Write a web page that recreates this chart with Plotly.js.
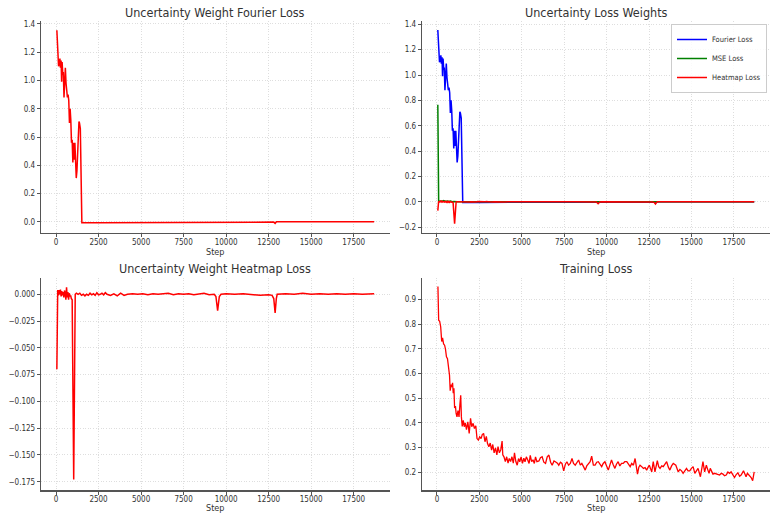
<!DOCTYPE html>
<html>
<head>
<meta charset="utf-8">
<script src="https://cdn.plot.ly/plotly-3.0.1.min.js"></script>
<style>
html,body{margin:0;padding:0;background:#fff;}
#chart{width:770px;height:514px;}
</style>
</head>
<body>
<div id="chart"></div>
<script>
// ---------- data ----------
const panelTitles = ["Uncertainty Weight Fourier Loss", "Uncertainty Loss Weights",
                     "Uncertainty Weight Heatmap Loss", "Training Loss"];
const xLabel = "Step";
const seriesNames = ["Fourier Loss", "MSE Loss", "Heatmap Loss"];
const xTicks = [0, 2500, 5000, 7500, 10000, 12500, 15000, 17500];

const fourierSteps = [50,100,150,190,230,260,300,330,360,400,
  430,470,510,550,590,630,670,710,750,790,
  830,870,910,950,990,1030,1070,1110,1150,1190,
  1230,1270,1310,1350,1380,1430,1520,2500,5000,7500,
  10000,12500,12800,12880,12960,15000,17500,18700];
const fourierWeight = [1.355,1.24,1.10,1.12,1.155,1.09,1.14,0.99,1.13,1.04,
  1.06,0.88,1.05,1.09,0.98,0.90,0.88,0.90,0.86,0.70,
  0.80,0.72,0.56,0.58,0.42,0.56,0.44,0.56,0.42,0.31,
  0.36,0.46,0.58,0.71,0.70,0.66,-0.005,-0.005,-0.004,-0.003,
  -0.002,-0.001,-0.001,-0.010,0.001,0.001,0.001,0.001];

const mseSteps = [50,100,200,300,400,500,600,700,800,900,1000,1200,2500,5000,10000,15000,18700];
const mseWeight = [0.766,0.002,0.006,0.004,0.009,0.003,0.007,0.002,0.006,0.001,0.003,0.0,0.0,0.0,0.0,0.0,0.0];

const heatmapSteps = [50,100,140,190,230,260,300,340,380,420,
  460,500,540,580,620,660,700,740,780,820,
  860,900,950,1040,1130,1200,1300,1400,1500,1600,
  1700,1800,1900,2000,2100,2200,2300,2400,2500,2600,
  2700,2800,2900,3000,3200,3400,3600,3800,4000,4200,
  4500,4800,5100,5400,5700,6000,6300,6600,6900,7200,
  7500,7800,8100,8400,8700,9000,9300,9400,9500,9600,
  9700,10000,10500,11000,11500,12000,12500,12700,12800,12880,
  12950,13000,13500,14000,14500,15000,15500,16000,16500,17000,
  17500,18000,18700];
const heatmapWeight = [-0.070,0.004,-0.001,0.004,0.000,0.0045,-0.002,0.003,-0.001,0.002,
  -0.003,0.0035,0.001,-0.005,0.0065,-0.003,0.002,-0.005,0.001,-0.002,
  -0.001,-0.004,-0.005,-0.173,0.000,0.001,0.000,0.001,-0.001,0.000,
  -0.0015,0.000,-0.001,0.001,-0.0005,0.0005,-0.001,0.0015,-0.0005,0.000,
  0.001,-0.0005,0.0015,0.000,-0.001,0.0005,-0.0015,0.001,-0.001,0.000,
  0.0005,0.000,0.0005,-0.0005,0.0005,0.000,0.0005,0.001,-0.0005,0.0005,
  0.000,0.0005,-0.0005,0.000,0.001,-0.0005,0.000,-0.002,-0.0152,-0.002,
  0.000,0.0005,0.000,0.0005,-0.0005,-0.001,-0.0005,-0.001,-0.004,-0.0175,
  -0.004,0.000,0.0005,0.000,0.001,0.000,0.0005,0.000,0.0005,0.000,
  0.0005,0.000,0.0005];

const trainSteps = [57,100,160,220,280,330,390,450,500,560,
  620,680,740,780,830,880,920,960,1000,1040,
  1090,1130,1180,1240,1300,1350,1400,1440,1490,1550,
  1610,1670,1740,1820,1900,1980,2050,2130,2210,2290,
  2360,2440,2520,2600,2670,2750,2830,2910,2980,3060,
  3140,3220,3290,3370,3450,3530,3600,3680,3760,3840,
  3880,3950,4030,4110,4190,4260,4340,4420,4500,4570,
  4650,4730,4810,4880,4960,5040,5120,5190,5270,5350,
  5430,5500,5580,5660,5740,5810,5890,6010,6100,6200,
  6300,6400,6500,6600,6700,6790,6900,6980,7100,7180,
  7280,7370,7470,7570,7660,7760,7860,7960,8050,8150,
  8250,8350,8450,8540,8640,8740,8830,8930,9030,9120,
  9220,9320,9420,9510,9610,9710,9800,9900,10000,10100,
  10200,10290,10390,10490,10580,10680,10780,10880,10980,11070,
  11190,11290,11390,11480,11580,11680,11820,11900,11970,12070,
  12170,12270,12360,12450,12520,12600,12660,12750,12850,12990,
  13070,13150,13250,13340,13440,13540,13640,13730,13830,13930,
  14080,14220,14320,14420,14510,14610,14710,14800,14900,15000,
  15100,15200,15300,15390,15530,15600,15680,15780,15880,15960,
  16040,16110,16200,16270,16370,16470,16560,16660,16760,16860,
  16950,17050,17150,17250,17340,17440,17540,17640,17740,17840,
  17930,18070,18150,18220,18300,18380,18450,18520,18610,18700];
const trainLoss = [0.953,0.816,0.812,0.790,0.730,0.745,0.720,0.715,0.700,0.668,
  0.660,0.620,0.593,0.530,0.555,0.545,0.562,0.520,0.540,0.460,
  0.468,0.438,0.424,0.450,0.424,0.472,0.512,0.424,0.385,0.410,
  0.384,0.400,0.372,0.404,0.357,0.418,0.384,0.398,0.377,0.388,
  0.336,0.330,0.343,0.336,0.352,0.357,0.323,0.345,0.316,0.303,
  0.318,0.289,0.312,0.278,0.298,0.270,0.303,0.278,0.290,0.326,
  0.270,0.262,0.243,0.262,0.236,0.255,0.243,0.262,0.236,0.278,
  0.243,0.228,0.255,0.242,0.262,0.235,0.256,0.242,0.262,0.249,
  0.235,0.268,0.242,0.250,0.235,0.262,0.242,0.245,0.258,0.262,
  0.240,0.235,0.262,0.269,0.240,0.228,0.245,0.242,0.236,0.228,
  0.240,0.235,0.205,0.232,0.242,0.228,0.235,0.255,0.235,0.228,
  0.240,0.249,0.228,0.235,0.222,0.208,0.225,0.235,0.242,0.265,
  0.228,0.228,0.240,0.242,0.230,0.222,0.235,0.242,0.225,0.208,
  0.230,0.249,0.230,0.215,0.232,0.242,0.225,0.235,0.235,0.242,
  0.242,0.230,0.222,0.235,0.228,0.255,0.192,0.220,0.228,0.222,
  0.215,0.218,0.208,0.220,0.228,0.212,0.201,0.242,0.201,0.246,
  0.222,0.215,0.225,0.222,0.230,0.242,0.220,0.208,0.225,0.235,
  0.228,0.201,0.211,0.205,0.195,0.208,0.215,0.205,0.205,0.215,
  0.222,0.195,0.208,0.215,0.181,0.220,0.242,0.201,0.228,0.210,
  0.195,0.215,0.200,0.192,0.195,0.192,0.190,0.188,0.195,0.192,
  0.185,0.188,0.200,0.195,0.201,0.190,0.178,0.190,0.197,0.183,
  0.188,0.205,0.190,0.181,0.195,0.188,0.182,0.178,0.165,0.201];

// ---------- styling ----------
const FONT = "DejaVu Sans Condensed, DejaVu Sans, sans-serif";
const TXT = "#333333";
const W = 770, H = 514;
const RED = "#ff0000", BLUE = "#0000ff", GREEN = "#008000";

function px2x(p){ return p / W; }
function px2y(p){ return 1 - p / H; }

const colL = [px2x(41), px2x(390)];
const colR = [px2x(422), px2x(770)];
const rowT = [px2y(233), px2y(21)];
const rowB = [px2y(490.3), px2y(277.7)];

const GRID = {showgrid: true, gridcolor: "#d6d6d6", gridwidth: 0.8, griddash: "1px,1.6px"};

function xAxis(domain, anchor){
  return Object.assign({
    domain: domain, anchor: anchor, range: [-882, 19632],
    tickmode: "array", tickvals: xTicks, tickformat: "d",
    showline: true, linecolor: "#555555", linewidth: 1.2, mirror: false,
    ticks: "outside", ticklen: 3, tickwidth: 1, tickcolor: "#555555",
    ticklabelstandoff: -2,
    zeroline: false, tickfont: {family: FONT, size: 8, color: TXT}
  }, GRID);
}
function yAxis(domain, anchor, range, vals, fmt){
  return Object.assign({
    domain: domain, anchor: anchor, range: range,
    tickmode: "array", tickvals: vals, tickformat: fmt,
    showline: true, linecolor: "#555555", linewidth: 1.2, mirror: false,
    ticks: "outside", ticklen: 3, tickwidth: 1, tickcolor: "#555555",
    zeroline: false, tickfont: {family: FONT, size: 8, color: TXT}
  }, GRID);
}

const traces = [
  {x: fourierSteps, y: fourierWeight, xaxis: "x", yaxis: "y", type: "scatter", mode: "lines",
   line: {color: RED, width: 1.5}, showlegend: false},
  {x: fourierSteps, y: fourierWeight, xaxis: "x2", yaxis: "y2", type: "scatter", mode: "lines",
   name: seriesNames[0], line: {color: BLUE, width: 1.5}},
  {x: mseSteps, y: mseWeight, xaxis: "x2", yaxis: "y2", type: "scatter", mode: "lines",
   name: seriesNames[1], line: {color: GREEN, width: 1.5}},
  {x: heatmapSteps, y: heatmapWeight, xaxis: "x2", yaxis: "y2", type: "scatter", mode: "lines",
   name: seriesNames[2], line: {color: RED, width: 1.5}},
  {x: heatmapSteps, y: heatmapWeight, xaxis: "x3", yaxis: "y3", type: "scatter", mode: "lines",
   line: {color: RED, width: 1.5}, showlegend: false},
  {x: trainSteps, y: trainLoss, xaxis: "x4", yaxis: "y4", type: "scatter", mode: "lines",
   line: {color: RED, width: 1.3}, showlegend: false}
];

function titleAnn(text, xc, yc){
  return {text: text, xref: "paper", yref: "paper", x: xc, y: yc, xanchor: "center", yanchor: "middle",
          showarrow: false, font: {family: FONT, size: 12.5, color: TXT}};
}
function labelAnn(xc, yc){
  return {text: xLabel, xref: "paper", yref: "paper", x: xc, y: yc, xanchor: "center", yanchor: "middle",
          showarrow: false, font: {family: FONT, size: 9, color: TXT}};
}
const cL = (colL[0] + colL[1]) / 2, cR = (colR[0] + colR[1]) / 2;

const layout = {
  width: W, height: H,
  margin: {l: 0, r: 0, t: 0, b: 0, pad: 0},
  paper_bgcolor: "#ffffff", plot_bgcolor: "#ffffff",
  font: {family: FONT, color: TXT},
  xaxis: xAxis(colL, "y"),
  yaxis: yAxis(rowT, "x", [-0.078, 1.42], [0, 0.2, 0.4, 0.6, 0.8, 1.0, 1.2, 1.4], ".1f"),
  xaxis2: xAxis(colR, "y2"),
  yaxis2: yAxis(rowT, "x2", [-0.246, 1.426], [-0.2, 0, 0.2, 0.4, 0.6, 0.8, 1.0, 1.2, 1.4], ".1f"),
  xaxis3: xAxis(colL, "y3"),
  yaxis3: yAxis(rowB, "x3", [-0.183, 0.0155], [-0.175, -0.15, -0.125, -0.1, -0.075, -0.05, -0.025, 0], ".3f"),
  xaxis4: xAxis(colR, "y4"),
  yaxis4: yAxis(rowB, "x4", [0.126, 0.989], [0.2, 0.3, 0.4, 0.5, 0.6, 0.7, 0.8, 0.9], ".1f"),
  showlegend: true,
  legend: {x: px2x(767), xanchor: "right", y: px2y(24), yanchor: "top",
           bgcolor: "rgba(255,255,255,0.85)", bordercolor: "#cccccc", borderwidth: 1,
           font: {family: FONT, size: 7.5, color: TXT}, tracegroupgap: 0, itemwidth: 30},
  annotations: [
    titleAnn(panelTitles[0], cL, px2y(12)),
    titleAnn(panelTitles[1], cR, px2y(12)),
    titleAnn(panelTitles[2], cL, px2y(268.7)),
    titleAnn(panelTitles[3], cR, px2y(268.7)),
    labelAnn(cL, px2y(251.5)),
    labelAnn(cR, px2y(251.5)),
    labelAnn(cL, px2y(508.3)),
    labelAnn(cR, px2y(508.3))
  ]
};

Plotly.newPlot("chart", traces, layout, {displayModeBar: false, staticPlot: true});
</script>
</body>
</html>
